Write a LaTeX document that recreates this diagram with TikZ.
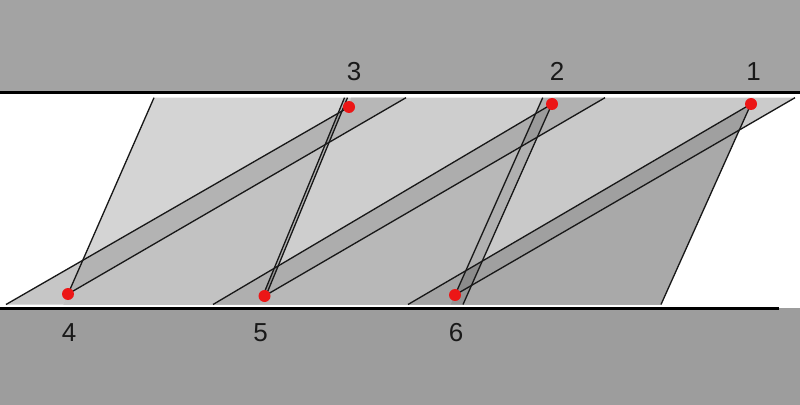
\documentclass[tikz,border=0pt]{standalone}
\usepackage{fontspec}
\setmainfont{Liberation Sans}
\definecolor{topgray}{HTML}{A3A3A3}
\definecolor{botgray}{HTML}{9D9D9D}
\definecolor{upA}{HTML}{D4D4D4}
\definecolor{bandA}{HTML}{B3B3B3}
\definecolor{lowA}{HTML}{C2C2C2}
\definecolor{bandLA}{HTML}{C6C6C6}
\definecolor{bandRA}{HTML}{B7B7B7}
\definecolor{upB}{HTML}{CECECE}
\definecolor{bandB}{HTML}{ADADAD}
\definecolor{lowB}{HTML}{B8B8B8}
\definecolor{bandLB}{HTML}{AFAFAF}
\definecolor{bandRB}{HTML}{B1B1B1}
\definecolor{upC}{HTML}{C9C9C9}
\definecolor{bandC}{HTML}{A0A0A0}
\definecolor{lowC}{HTML}{A9A9A9}
\definecolor{bandLC}{HTML}{A4A4A4}
\definecolor{bandRC}{HTML}{CBCBCB}
\definecolor{dotred}{RGB}{236,22,22}
\definecolor{linecol}{HTML}{181818}
\begin{document}
\begin{tikzpicture}[x=0.02cm,y=-0.02cm,
  ln/.style={draw=linecol,line width=0.75pt},
  dot/.style={circle,fill=dotred,draw=none,minimum size=0.24cm,inner sep=0pt},
  lbl/.style={anchor=base,inner sep=0pt,font=\fontsize{14.8}{17}\selectfont,text=black!90},
  steepband/.style={fill=black,fill opacity=0.12}]
\useasboundingbox (0,0) rectangle (800,405);
\fill[white] (0,0) rectangle (800,405);
% plates
\fill[topgray] (0,0) rectangle (800,91.5);
\fill[black] (0,91.5) rectangle (800,94.5);
\fill[botgray] (0,308) rectangle (800,405);
\fill[black] (0,306.7) rectangle (779,309.8);
% points
\coordinate (P1) at (751,104);
\coordinate (P2) at (552,104);
\coordinate (P3) at (349,107);
\coordinate (P4) at (68,294);
\coordinate (P5) at (264.5,296);
\coordinate (P6) at (455,295);
% steep lines
\coordinate (tA) at (154,97.7);
\coordinate (bA) at (63.4,304.5);
\coordinate (t35) at (344.5,97.7);
\coordinate (b35) at (259.3,304.5);
\coordinate (t35b) at (347.5,97.7);
\coordinate (e35a) at (263,295.5);
\coordinate (e35b) at (266,295.5);
\coordinate (t62) at (542.7,97.7);
\coordinate (b62) at (450.8,304.5);
\coordinate (t62b) at (554.8,97.7);
\coordinate (b62b) at (463,304.5);
\coordinate (tC) at (753.8,97.7);
\coordinate (bC) at (661,304.5);
% shallow lines
\coordinate (u1b) at (6,304.5);
\coordinate (u1t) at (365.2,97.7);
\coordinate (l1b) at (49.9,304.5);
\coordinate (l1t) at (406,97.7);
\coordinate (u2b) at (213,304.5);
\coordinate (u2t) at (562.7,97.7);
\coordinate (l2b) at (249.9,304.5);
\coordinate (l2t) at (605,97.7);
\coordinate (u3b) at (408,304.5);
\coordinate (u3t) at (761.8,97.7);
\coordinate (l3b) at (438.6,304.5);
\coordinate (l3t) at (795,97.7);
% intersections
\coordinate (xA1) at (intersection of tA--bA and u1b--P3);
\coordinate (x35u1) at (intersection of t35--b35 and u1b--P3);
\coordinate (x35l1) at (intersection of t35--b35 and P4--l1t);
\coordinate (x35u2) at (intersection of t35--b35 and u2b--P2);
\coordinate (x62u2) at (intersection of t62--b62 and u2b--P2);
\coordinate (x62l2) at (intersection of t62--b62 and P5--l2t);
\coordinate (x62u3) at (intersection of t62--b62 and u3b--P1);
\coordinate (xCl3) at (intersection of P1--bC and P6--l3t);
% strip 1
\begin{scope}
\clip (tA) -- (t35) -- (b35) -- (bA) -- cycle;
\fill[upA] (0,0) rectangle (800,405);
\fill[bandA] (u1t) -- (u1b) -- (1000,304.5) -- (1000,97.7) -- cycle;
\fill[lowA] (l1t) -- (l1b) -- (1000,304.5) -- (1000,97.7) -- cycle;
\end{scope}
% strip 2
\begin{scope}
\clip (t35) -- (t62) -- (b62) -- (b35) -- cycle;
\fill[upB] (0,0) rectangle (800,405);
\fill[bandB] (u2t) -- (u2b) -- (1000,304.5) -- (1000,97.7) -- cycle;
\fill[lowB] (l2t) -- (l2b) -- (1000,304.5) -- (1000,97.7) -- cycle;
\end{scope}
% strip 3
\begin{scope}
\clip (t62) -- (tC) -- (bC) -- (b62) -- cycle;
\fill[upC] (0,0) rectangle (800,405);
\fill[bandC] (u3t) -- (u3b) -- (1000,304.5) -- (1000,97.7) -- cycle;
\fill[lowC] (l3t) -- (l3b) -- (1000,304.5) -- (1000,97.7) -- cycle;
\end{scope}
% band parts outside their strips
\fill[bandLA] (u1b) -- (xA1) -- (P4) -- (bA) -- cycle;
\fill[bandLB] (u2b) -- (x35u2) -- (e35a) -- (b35) -- cycle;
\fill[bandLC] (u3b) -- (x62u3) -- (P6) -- (b62) -- cycle;
\fill[bandRA] (x35u1) -- (P3) -- (351,97.7) -- (l1t) -- (x35l1) -- cycle;
\fill[bandRB] (x62u2) -- (P2) -- (t62b) -- (l2t) -- (x62l2) -- cycle;
\fill[bandRC] (tC) -- (l3t) -- (xCl3) -- cycle;
% steep bands
\fill[steepband] (t35) -- (t35b) -- (e35b) -- (e35a) -- cycle;
\fill[steepband] (t62) -- (t62b) -- (b62b) -- (b62) -- cycle;
% lines
\draw[ln] (tA) -- (P4);
\draw[ln] (u1b) -- (P3);
\draw[ln] (P4) -- (l1t);
\draw[ln] (t35) -- (e35a);
\draw[ln] (t35b) -- (e35b);
\draw[ln] (u2b) -- (P2);
\draw[ln] (P5) -- (l2t);
\draw[ln] (t62) -- (P6);
\draw[ln] (P2) -- (b62b);
\draw[ln] (u3b) -- (P1);
\draw[ln] (P6) -- (l3t);
\draw[ln] (P1) -- (bC);
% dots
\node[dot] (d1) at (P1) {};
\node[dot] (d2) at (P2) {};
\node[dot] (d3) at (P3) {};
\node[dot] (d4) at (P4) {};
\node[dot] (d5) at (P5) {};
\node[dot] (d6) at (P6) {};
% labels
\node[lbl] (n3) at (354,80.7) {3};
\node[lbl] (n2) at (557,80.7) {2};
\node[lbl] (n1) at (753.5,80.7) {1};
\node[lbl] (n4) at (69,341) {4};
\node[lbl] (n5) at (260.5,341) {5};
\node[lbl] (n6) at (456,341) {6};
\end{tikzpicture}
\end{document}
